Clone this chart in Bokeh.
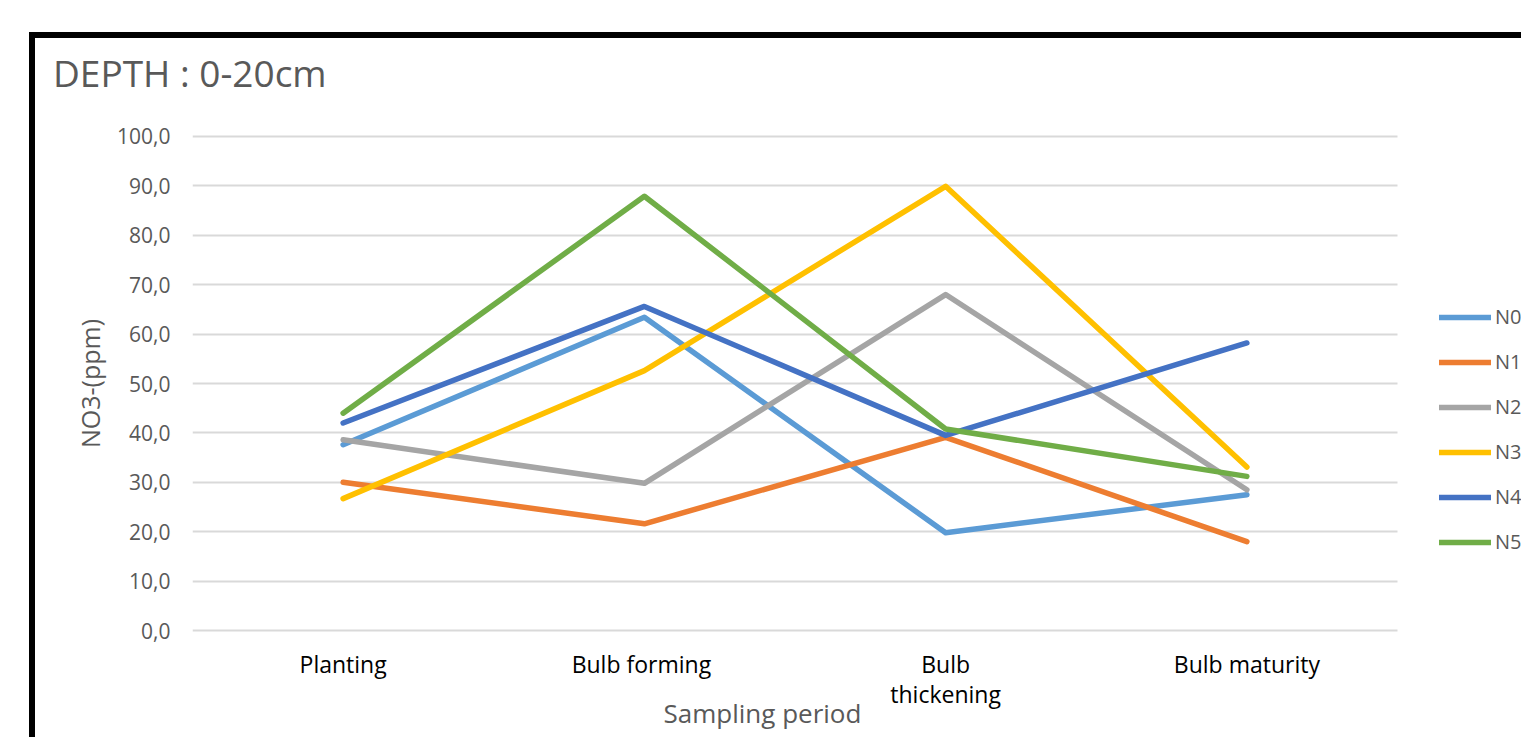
from bokeh.plotting import figure
from bokeh.models import Range1d, FixedTicker, Legend, LegendItem, Div, Title
from bokeh.layouts import column
from bokeh.embed import file_html
from bokeh.resources import INLINE

title_text = "DEPTH : 0-20cm"
x_title = "Sampling period"
y_title = "NO3-(ppm)"
categories = ["Planting", "Bulb  forming", "Bulb\nthickening", "Bulb maturity"]
series_names = ["N0", "N1", "N2", "N3", "N4", "N5"]
n0 = [37.6, 63.4, 19.8, 27.5]
n1 = [30.0, 21.6, 39.1, 18.0]
n2 = [38.6, 29.8, 68.0, 28.5]
n3 = [26.7, 52.6, 89.9, 33.1]
n4 = [42.0, 65.6, 39.5, 58.2]
n5 = [44.0, 87.9, 40.8, 31.2]
colors = ["#5B9BD5", "#ED7D31", "#A5A5A5", "#FFC000", "#4472C4", "#70AD47"]
y_ticks = [0, 10, 20, 30, 40, 50, 60, 70, 80, 90, 100]

FONT = "Open Sans"
GRAY = "#595959"
W = 1490
H = 642
LEFT = 157
PLOT_W = 1205          # width of the gridded area in pixels
frame_w = W - LEFT
x_start = -0.5
x_grid_end = len(categories) - 0.5
x_end = x_start + (x_grid_end - x_start) * frame_w / PLOT_W

title_div = Div(
    text=(f'<div style="font-family:\'Open Sans\';font-size:37px;color:{GRAY};'
          f'line-height:50px;padding:5px 0 0 13px;white-space:nowrap;">{title_text}</div>'),
    width=W, height=50)

p = figure(width=W, height=H, output_backend="svg", toolbar_location=None,
           x_range=Range1d(x_start, x_end), y_range=Range1d(-1, 101),
           min_border_left=LEFT, min_border_right=0, min_border_top=33, min_border_bottom=105)
p.outline_line_color = None
p.background_fill_color = "white"
p.border_fill_color = "white"

xs = list(range(len(categories)))
items = []
for name, vals, c in zip(series_names, [n0, n1, n2, n3, n4, n5], colors):
    r = p.line(xs, vals, line_color=c, line_width=5.5, line_cap="round", line_join="round")
    items.append(LegendItem(label=name, renderers=[r]))

# x axis
p.xaxis.ticker = FixedTicker(ticks=xs)
p.xaxis.major_label_overrides = {i: c for i, c in enumerate(categories)}
p.xaxis.major_label_text_font = FONT
p.xaxis.major_label_text_font_size = "23px"
p.xaxis.major_label_text_line_height = 0.95
p.xaxis.major_label_text_color = "black"
p.xaxis.axis_line_color = None
p.xaxis.major_tick_line_color = None
p.xaxis.minor_tick_line_color = None
p.xaxis.major_tick_out = 0
p.xaxis.major_label_standoff = 12

xt = Title(text=x_title, align="left", offset=471, vertical_align="top", standoff=-36,
           text_font=FONT, text_font_size="26px", text_font_style="normal", text_color=GRAY)
p.add_layout(xt, "below")

# y axis
p.yaxis.ticker = FixedTicker(ticks=y_ticks)
p.yaxis.major_label_overrides = {t: f"{t:.1f}".replace(".", ",") for t in y_ticks}
p.yaxis.major_label_text_font = FONT
p.yaxis.major_label_text_font_size = "21px"
p.yaxis.major_label_text_color = GRAY
p.yaxis.axis_line_color = None
p.yaxis.major_tick_line_color = None
p.yaxis.minor_tick_line_color = None
p.yaxis.major_tick_out = 0
p.yaxis.major_label_standoff = 22
p.yaxis.axis_label = y_title
p.yaxis.axis_label_text_font = FONT
p.yaxis.axis_label_text_font_size = "25px"
p.yaxis.axis_label_text_font_style = "normal"
p.yaxis.axis_label_text_color = GRAY
p.yaxis.axis_label_standoff = 7

p.xgrid.grid_line_color = None
p.ygrid.grid_line_color = "#D9D9D9"
p.ygrid.grid_line_width = 2
p.ygrid.cross_bounds = (x_start, x_grid_end)

legend = Legend(items=items, location=(1247, 80), orientation="vertical",
                glyph_width=52, glyph_height=20, label_height=20, spacing=18,
                label_standoff=4, padding=0, margin=0,
                border_line_color=None, background_fill_alpha=0,
                label_text_font=FONT, label_text_font_size="20px", label_text_color=GRAY)
p.add_layout(legend)

layout = column(title_div, p, styles={"margin-left": "29px", "margin-top": "32px",
                                      "border-left": "6px solid black",
                                      "border-top": "6px solid black"})

open("out.html", "w").write(file_html(layout, INLINE))
